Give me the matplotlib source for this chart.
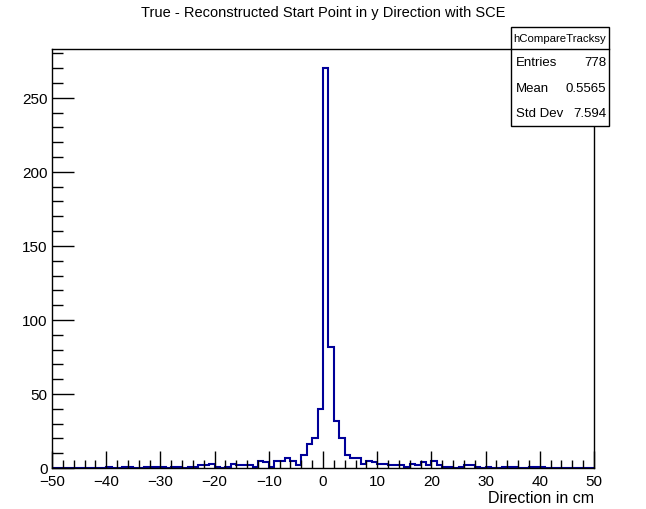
import numpy as np
import matplotlib
matplotlib.use('Agg')
import matplotlib.pyplot as plt
from matplotlib.ticker import MultipleLocator

plt.rcParams['font.family'] = ['Liberation Sans', 'DejaVu Sans']

# 100 bins of 1 cm from -50 to 50, counts
bin_edges = np.arange(-50, 51, 1)
counts = [
    # -50 .. -41
    0, 0, 0, 0, 0, 0, 0, 0, 0, 0,
    # -40 .. -31
    1, 0, 0, 1, 1, 0, 0, 1, 1, 1,
    # -30 .. -21
    1, 0, 1, 1, 0, 1, 1, 2, 2, 3,
    # -20 .. -11
    1, 0, 1, 3, 2, 2, 2, 1, 5, 4,
    # -10 .. -1
    1, 5, 5, 7, 5, 2, 9, 16, 20, 40,
    # 0 .. 9
    270, 82, 32, 20, 9, 7, 7, 3, 5, 4,
    # 10 .. 19
    3, 3, 2, 2, 2, 1, 3, 2, 4, 2,
    # 20 .. 29
    5, 2, 1, 1, 0, 1, 2, 2, 1, 0,
    # 30 .. 39
    1, 0, 0, 1, 1, 1, 0, 0, 1, 1,
    # 40 .. 49
    1, 0, 0, 0, 0, 0, 0, 0, 0, 0,
]

hist_name = 'hCompareTracksy'
stat_labels = ['Entries', 'Mean', 'Std Dev']
stat_values = ['778', '0.5565', '7.594']

title = 'True - Reconstructed Start Point in y Direction with SCE'
xlabel = 'Direction in cm'

fig = plt.figure(figsize=(6.46, 5.10), dpi=100)
ax = fig.add_axes([52 / 646, 1 - 469 / 510, 542 / 646, 419 / 510])

ax.stairs(counts, bin_edges, color='#000099', linewidth=1.5)

ax.set_xlim(-50, 50)
ax.set_ylim(0, 283)
ax.xaxis.set_major_locator(MultipleLocator(10))
ax.xaxis.set_minor_locator(MultipleLocator(2))
ax.yaxis.set_major_locator(MultipleLocator(50))
ax.yaxis.set_minor_locator(MultipleLocator(10))
ax.tick_params(which='both', direction='in', top=False, right=False,
               labelsize=11, width=1, color='black')
ax.tick_params(axis='x', which='major', length=12, pad=4)
ax.tick_params(axis='x', which='minor', length=6)
ax.tick_params(axis='y', which='major', length=16, pad=3)
ax.tick_params(axis='y', which='minor', length=8)
for sp in ax.spines.values():
    sp.set_linewidth(1.0)

fig.text(323 / 646, 1 - 13 / 510, title, ha='center', va='center', fontsize=10.5)
fig.text(594 / 646, 1 - 499 / 510, xlabel, ha='right', va='center', fontsize=11.5)

# stats box
bx0, bx1 = 511 / 646, 609 / 646
by_top, by_bot = 1 - 28 / 510, 1 - 127 / 510
hdr = 1 - 50 / 510
box = plt.Rectangle((bx0, by_bot), bx1 - bx0, by_top - by_bot, transform=fig.transFigure,
                    facecolor='white', edgecolor='black', linewidth=1.0, zorder=5)
fig.add_artist(box)
fig.add_artist(plt.Line2D([bx0, bx1], [hdr, hdr], transform=fig.transFigure,
                          color='black', linewidth=1.0, zorder=6))
fig.text((bx0 + bx1) / 2, (by_top + hdr) / 2, hist_name, ha='center', va='center',
         fontsize=8.2, zorder=7)
row_h = (hdr - by_bot) / 3
for i, (lab, val) in enumerate(zip(stat_labels, stat_values)):
    yc = hdr - row_h * (i + 0.5)
    fig.text(bx0 + 5 / 646, yc, lab, ha='left', va='center', fontsize=9.5, zorder=7)
    fig.text(bx1 - 3 / 646, yc, val, ha='right', va='center', fontsize=9.5, zorder=7)

fig.savefig('out.png', dpi=100)
